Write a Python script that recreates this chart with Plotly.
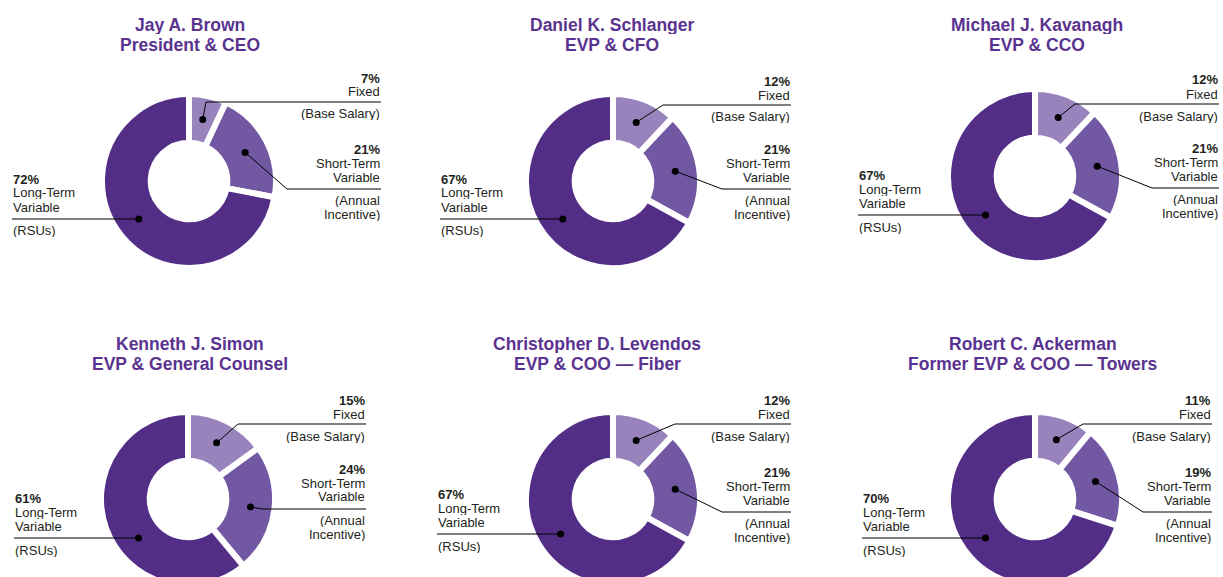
import math
import plotly.graph_objects as go

W, H = 1223, 592

# ---- data ----
names = ["Jay A. Brown", "Daniel K. Schlanger", "Michael J. Kavanagh",
         "Kenneth J. Simon", "Christopher D. Levendos", "Robert C. Ackerman"]
roles = ["President & CEO", "EVP & CFO", "EVP & CCO",
         "EVP & General Counsel", "EVP & COO \u2014 Fiber", "Former EVP & COO \u2014 Towers"]
fixed_pct = [7, 12, 12, 15, 12, 11]
short_term_pct = [21, 21, 21, 24, 21, 19]
long_term_pct = [72, 67, 67, 61, 67, 70]
segment_names = ["Fixed", "Short-Term Variable", "Long-Term Variable"]

# ---- layout (pixels) ----
centres = [(189, 181), (613, 181), (1035, 176), (188, 499), (613, 499), (1035, 499)]
title_pos = [(190, 24, 44), (612, 24, 44), (1037, 24, 44),
             (190, 343, 363), (597, 343, 363), (1033, 343, 363)]
right_x = [381, 791, 1219, 366, 791, 1212]
left_x = [12, 440, 858, 14, 437, 862]
fixed_line_y = [102, 105, 104, 424, 424, 424]
stv_line_y = [189, 189, 188, 509, 512, 512]
ltv_line_y = [219, 219, 215, 538, 534, 538]
fixed_bend_x = [206, 663, 1075, 238, 675, 1083]
stv_bend_x = [287, 722, 1152, 262, 722, 1143]

R = 87
DOT_R = 63
colors = ["#9883bd", "#7257a3", "#532e87"]
title_color = "#5a3390"
text_color = "#231f20"
FONT = "Liberation Sans, Arial, sans-serif"


def px(x):
    return x / W


def py(y):
    return 1 - y / H


fig = go.Figure()
annotations = []
shapes = []


def ann(x, y, text, anchor, bold=False, size=13, color=text_color, h=13):
    annotations.append(dict(
        x=px(x), y=py(y), xref="paper", yref="paper",
        text=f"<b>{text}</b>" if bold else text,
        showarrow=False, xanchor=anchor, yanchor="middle",
        height=h, borderpad=0, valign="middle",
        font=dict(family=FONT, size=size, color=color)))


def seg(x0, y0, x1, y1):
    shapes.append(dict(type="line", xref="paper", yref="paper", layer="above",
                       x0=px(x0), y0=py(y0), x1=px(x1), y1=py(y1),
                       line=dict(color="black", width=1)))


def dot(x, y, r=3.5):
    shapes.append(dict(type="circle", xref="paper", yref="paper", layer="above",
                       x0=px(x - r), x1=px(x + r), y0=py(y + r), y1=py(y - r),
                       fillcolor="black", line=dict(width=0)))


for i in range(6):
    cx, cy = centres[i]
    vals = [fixed_pct[i], short_term_pct[i], long_term_pct[i]]
    fig.add_trace(go.Pie(
        values=vals, labels=segment_names, sort=False, direction="clockwise",
        rotation=0, hole=0.44, textinfo="none", hoverinfo="label+percent",
        showlegend=False,
        marker=dict(colors=colors, line=dict(color="white", width=6)),
        domain=dict(x=[(cx - R) / W, (cx + R) / W],
                    y=[(H - cy - R) / H, (H - cy + R) / H])))

    # titles
    tx, ty1, ty2 = title_pos[i]
    ann(tx, ty1, names[i], "center", bold=True, size=17.5, color=title_color, h=19)
    ann(tx, ty2, roles[i], "center", bold=True, size=17.5, color=title_color, h=19)

    # dots: fixed / short-term at slice mid-angles
    total = sum(vals)
    fmid = (vals[0] / 2) / total * 2 * math.pi
    smid = (vals[0] + vals[1] / 2) / total * 2 * math.pi
    fx, fy = cx + DOT_R * math.sin(fmid), cy - DOT_R * math.cos(fmid)
    sx, sy = cx + DOT_R * math.sin(smid), cy - DOT_R * math.cos(smid)
    # long-term: on the left part of the ring, at the leader line's height
    ly = ltv_line_y[i]
    lx = cx - math.sqrt(max(DOT_R ** 2 - (ly - cy) ** 2, 0))

    # leader lines
    seg(fx, fy, fixed_bend_x[i], fixed_line_y[i])
    seg(fixed_bend_x[i], fixed_line_y[i], right_x[i], fixed_line_y[i])
    seg(sx, sy, stv_bend_x[i], stv_line_y[i])
    seg(stv_bend_x[i], stv_line_y[i], right_x[i], stv_line_y[i])
    seg(left_x[i], ly, lx, ly)
    for d in [(fx, fy), (sx, sy), (lx, ly)]:
        dot(*d)

    # labels
    L = fixed_line_y[i]
    ann(right_x[i], L - 24, f"{fixed_pct[i]}%", "right", bold=True)
    ann(right_x[i], L - 10, "Fixed", "right")
    ann(right_x[i], L + 12, "(Base Salary)", "right")
    L = stv_line_y[i]
    ann(right_x[i], L - 40, f"{short_term_pct[i]}%", "right", bold=True)
    ann(right_x[i], L - 26, "Short-Term", "right")
    ann(right_x[i], L - 12, "Variable", "right")
    ann(right_x[i], L + 11, "(Annual", "right")
    ann(right_x[i], L + 25, "Incentive)", "right")
    L = ltv_line_y[i]
    ann(left_x[i], L - 40, f"{long_term_pct[i]}%", "left", bold=True)
    ann(left_x[i], L - 26, "Long-Term", "left")
    ann(left_x[i], L - 12, "Variable", "left")
    ann(left_x[i], L + 12, "(RSUs)", "left")

fig.update_layout(
    width=W, height=H, margin=dict(l=0, r=0, t=0, b=0),
    paper_bgcolor="white", plot_bgcolor="rgba(0,0,0,0)",
    annotations=annotations, shapes=shapes, showlegend=False,
)

fig.write_html(
    "out.html",
    config={"displayModeBar": False},
    post_script="document.body.style.margin='0';document.body.style.overflow='hidden';"
                "document.documentElement.style.overflow='hidden';",
)
